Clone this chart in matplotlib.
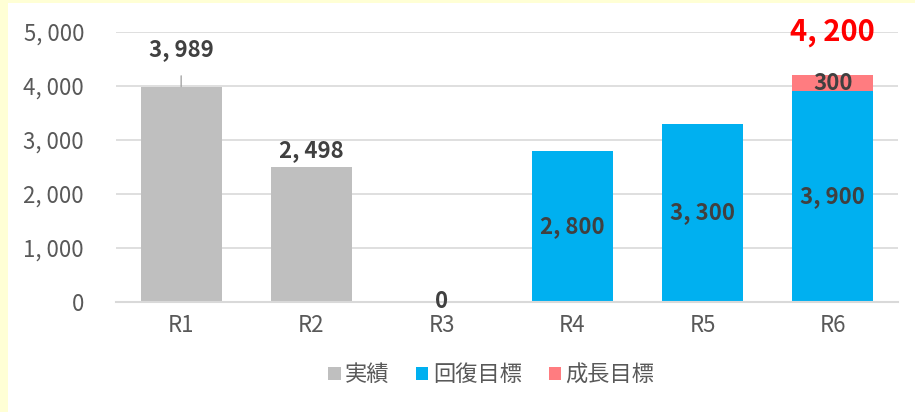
import matplotlib.pyplot as plt
import matplotlib.patches as mpatches
import numpy as np

plt.rcParams['font.family'] = ['Noto Sans CJK JP', 'DejaVu Sans']

# datos
categorias = ['R1', 'R2', 'R3', 'R4', 'R5', 'R6']
jisseki = [3989, 2498, 0, 0, 0, 0]
kaifuku = [0, 0, 0, 2800, 3300, 3900]
seicho = [0, 0, 0, 0, 0, 300]
series_nombres = ['実績', '回復目標', '成長目標']
colores = ['#BFBFBF', '#00B0F0', '#FF7C80']


def fmt(v):
    return f'{v:,}'.replace(',', ', ')


fig = plt.figure(figsize=(9.15, 4.12), dpi=100)
fig.patch.set_facecolor('#FFFFD5')
# panel blanco del grafico
fig.patches.append(mpatches.Rectangle((8 / 915, 0), 1, (412 - 3) / 412,
                                      transform=fig.transFigure, facecolor='white',
                                      edgecolor='none', zorder=-5))

ax = fig.add_axes([116 / 915, 110 / 412, 782 / 915, 270 / 412])
ax.set_zorder(2)
ax.set_facecolor('white')
x = np.arange(len(categorias))
ancho = 0.62

ax.bar(x, jisseki, ancho, color=colores[0], label=series_nombres[0], zorder=2)
ax.bar(x, kaifuku, ancho, bottom=jisseki, color=colores[1], label=series_nombres[1], zorder=2)
base2 = np.array(jisseki) + np.array(kaifuku)
ax.bar(x, seicho, ancho, bottom=base2, color=colores[2], label=series_nombres[2], zorder=2)

ax.set_ylim(0, 5000)
ax.set_xlim(-0.5, len(categorias) - 0.5)
ax.set_yticks(range(0, 5001, 1000))
ax.set_yticklabels([fmt(v) for v in range(0, 5001, 1000)])
ax.set_xticks(x)
ax.set_xticklabels(categorias)
ax.tick_params(length=0, labelsize=16, colors='#595959', pad=9)
ax.tick_params(axis='y', pad=23)
ax.grid(axis='y', color='#D9D9D9', linewidth=1.2, zorder=1)
ax.set_axisbelow(True)
for s in ['top', 'right', 'left']:
    ax.spines[s].set_visible(False)
ax.spines['bottom'].set_color('#D9D9D9')
ax.spines['bottom'].set_linewidth(1.5)

etiqueta = dict(fontsize=16, fontweight='bold', color='#404040', ha='center', va='center')

# etiquetas de 実績
ax.annotate(fmt(jisseki[0]), (x[0], jisseki[0]), xytext=(0, 27), textcoords='offset points',
            arrowprops=dict(arrowstyle='-', color='#A6A6A6', lw=1, shrinkA=9, shrinkB=0), **etiqueta)
ax.annotate(fmt(jisseki[1]), (x[1], jisseki[1]), xytext=(0, 12), textcoords='offset points', **etiqueta)
ax.annotate(fmt(jisseki[2]), (x[2], jisseki[2]), xytext=(0, 0), textcoords='offset points', **etiqueta)

# etiquetas dentro de las barras
for i in range(3, 6):
    ax.text(x[i], kaifuku[i] / 2, fmt(kaifuku[i]), **etiqueta)
ax.text(x[5], base2[5] + seicho[5] / 2, fmt(seicho[5]), **etiqueta)

# total
total = base2[5] + seicho[5]
ax.annotate(fmt(int(total)), (x[5], total), xytext=(0, 31), textcoords='offset points',
            fontsize=21, fontweight='bold', color='red', ha='center', va='center')

ax.legend(loc='center', bbox_to_anchor=(0.48, -0.27), ncol=3, frameon=False,
          fontsize=16, labelcolor='#595959', handlelength=0.55, handleheight=0.55,
          handletextpad=0.2, columnspacing=1.2)

plt.savefig('out.png', dpi=100, facecolor=fig.get_facecolor())
